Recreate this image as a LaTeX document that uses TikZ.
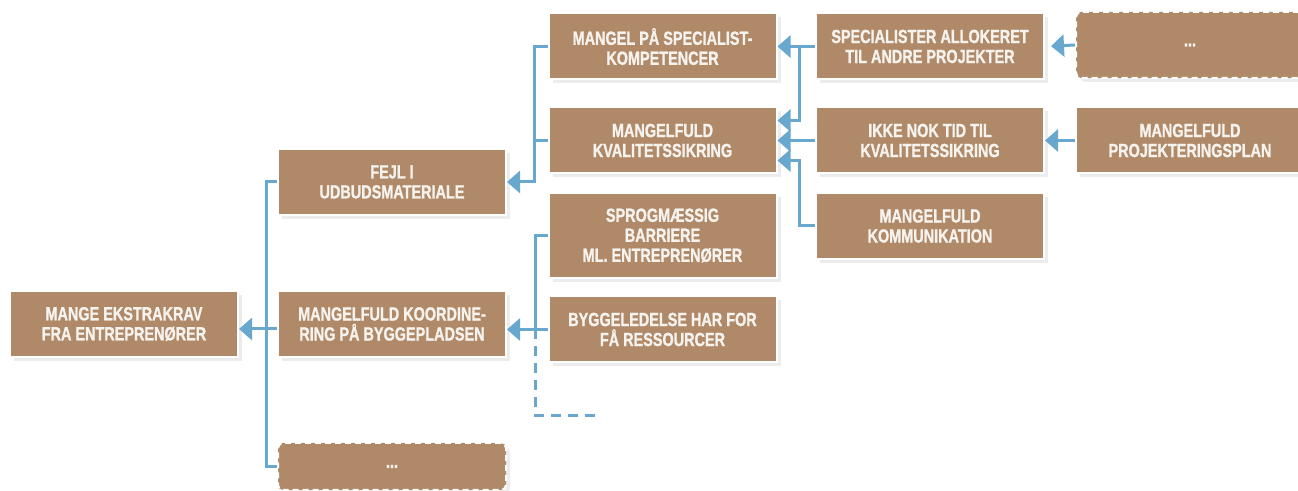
\documentclass[tikz,border=0pt]{standalone}
\usepackage{fontspec}
\newfontfamily\boxfont[FakeStretch=0.76,BoldFeatures={FakeBold=1.2}]{Liberation Sans}
\usetikzlibrary{arrows.meta,shadows}
\definecolor{boxbrown}{RGB}{176,137,104}
\definecolor{linkblue}{RGB}{104,168,206}
\definecolor{boxtext}{RGB}{246,242,238}
\tikzstyle{cause} = [rectangle,fill=boxbrown,draw=white,line width=1pt,text=boxtext,
  align=center,font=\boxfont\bfseries\fontsize{9.5}{10}\selectfont,
  minimum width=114pt,minimum height=33pt,inner sep=0pt,
  drop shadow={shadow xshift=2pt,shadow yshift=-2pt,opacity=0.15}]
\tikzstyle{openbox} = [cause,dashed,dash pattern=on 3pt off 2pt,rounded corners=2.5pt]
\tikzstyle{link} = [linkblue,line width=1.5pt]
\tikzstyle{arrow} = [link,-{Triangle[length=6.5pt,width=11pt]}]

\begin{document}
\begin{tikzpicture}[x=0.5pt,y=-0.5pt]
		% page frame, in pixels
		\useasboundingbox (0,0) rectangle (1298,491);
		
		% the effect
		\node[cause] (root) at (124,324) {MANGE EKSTRAKRAV\\FRA ENTREPRENØRER};
		
		% second level
		\node[cause] (fejl) at (392,182) {FEJL I\\UDBUDSMATERIALE};
		\node[cause] (koord) at (392,324) {MANGELFULD KOORDINE-\\RING PÅ BYGGEPLADSEN};
		\node[openbox,minimum height=23.5pt] (more2) at (392,466.5) {...};
		
		% third level
		\node[cause] (mangel) at (662.5,46.5) {MANGEL PÅ SPECIALIST-\\KOMPETENCER};
		\node[cause] (kval) at (662.5,140.5) {MANGELFULD\\KVALITETSSIKRING};
		\node[cause,minimum height=42.5pt] (sprog) at (662.5,235.5) {SPROGMÆSSIG\\BARRIERE\\ML. ENTREPRENØRER};
		\node[cause] (bygge) at (662.5,329.5) {BYGGELEDELSE HAR FOR\\FÅ RESSOURCER};
		
		% fourth level
		\node[cause] (spec) at (930,46.5) {SPECIALISTER ALLOKERET\\TIL ANDRE PROJEKTER};
		\node[cause] (ikke) at (930,140.5) {IKKE NOK TID TIL\\KVALITETSSIKRING};
		\node[cause] (komm) at (930,226) {MANGELFULD\\KOMMUNIKATION};
		
		% fifth level
		\node[openbox] (more5) at (1190,45) {...};
		\node[cause] (plan) at (1190,140.5) {MANGELFULD\\PROJEKTERINGSPLAN};
		
		% into the effect
		\coordinate (bus1) at (266,329);
		\draw[link] (fejl.west) -| (bus1) |- (more2.west);
		\draw[link] (koord.west |- bus1) -- (bus1);
		\draw[arrow] (bus1) -- (root.east |- bus1);
		
		% into the second level
		\coordinate (bus2) at (534.5,182);
		\draw[arrow] (mangel.west) -| (bus2) -- (fejl.east);
		\draw[link] (kval.west) -- (kval.west -| bus2);
		
		\coordinate (bus3) at (535,329.5);
		\coordinate (loose) at (595,416);
		\draw[arrow] (sprog.west) -| (bus3) -- (koord.east |- bus3);
		\draw[link] (bygge.west) -- (bus3);
		\draw[link,dashed,dash pattern=on 5pt off 3.5pt] (bus3) |- (loose);
		
		% into the third level
		\draw[arrow] (spec.west) -- (mangel.east);
		\draw[arrow] ([xshift=-8pt]spec.west) |- ([yshift=10pt]kval.east);
		\draw[arrow] (ikke.west) -- (kval.east);
		\draw[arrow] (komm.west) -- ++(-16,0) |- ([yshift=-10pt]kval.east);
		
		% into the fourth level
		\draw[arrow,shorten >=3pt] (more5.west) -- (spec.east);
		\draw[arrow] (plan.west) -- (ikke.east);
		
\end{tikzpicture}
\end{document}
